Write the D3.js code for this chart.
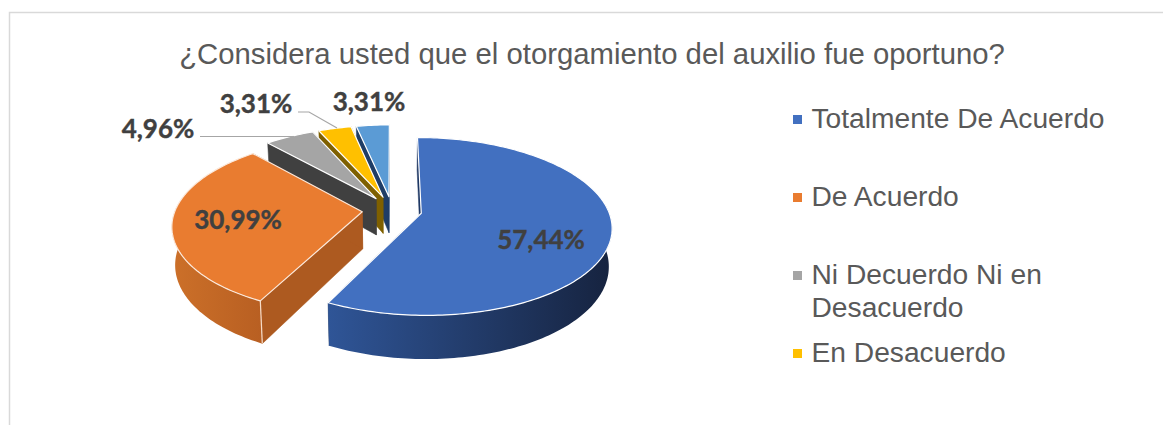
<!DOCTYPE html>
<meta charset="utf-8">
<style>
html, body { margin: 0; background: #fff; }
svg { display: block; }
</style>
<body>
<svg width="1163" height="425" id="chart"></svg>
<script src="https://d3js.org/d3.v7.min.js"></script>
<script>

// data
const categories = ["Totalmente De Acuerdo", "De Acuerdo", "Ni Decuerdo Ni en Desacuerdo", "En Desacuerdo", "No Responde"];
const values = [57.44, 30.99, 4.96, 3.31, 3.31];
const labels = ["57,44%", "30,99%", "4,96%", "3,31%", "3,31%"];
const title = "¿Considera usted que el otorgamiento del auxilio fue oportuno?";

// styles
const topColors = ["#4270c0", "#e97c30", "#a5a5a5", "#ffc000", "#5b9bd5"];
const wallColors = ["#1f3864", "#ad5a20", "#404040", "#7f6000", "#1f3d66"];
const wallRamps = [["#2f5597", "#16233f"], ["#cc7029", "#b85f22"]];

var svg = d3.select("svg"),
    width = +svg.attr("width"),
    height = +svg.attr("height");

// frame, only top and left are visible in the crop
svg.append("path")
    .attr("d", "M9.5,425V12.5H1163")
    .attr("fill", "none")
    .attr("stroke", "#d9d9d9")
    .attr("stroke-width", 1.5);

svg.append("text")
    .attr("x", 592)
    .attr("y", 64)
    .attr("text-anchor", "middle")
    .attr("font-family", "Liberation Sans")
    .attr("font-size", 29.3)
    .attr("fill", "#595959")
    .text(title);

// pseudo 3d pie: unit circle on the ground, seen in perspective
const persp = 0.148, explode = 0.16, depth = 37, shrink = 0.985;
const cx = 392;
let xs = d3.scaleLinear().domain([-1, 1]).range([cx - 187, cx + 187]);
let ys = d3.scaleLinear().domain([-1, 1]).range([210 + 86, 210 - 86]);

function project(gx, gz, low) {
    let s = 1 / (1 + persp * gz);
    let x = xs(gx * s), y = ys(gz * s);
    if (low) {
        x = cx + (x - cx) * shrink;
        y += depth * s;
    }
    return [x, y];
}

let pie = d3.pie().sort(null).value(d => d);
let slices = pie(values);
let line = d3.line();
let defs = svg.append("defs");

function arcPoints(d, a0, a1, low) {
    let mid = (d.startAngle + d.endAngle) / 2;
    let ox = Math.sin(mid) * explode, oz = Math.cos(mid) * explode;
    let n = Math.max(2, Math.ceil((a1 - a0) / 0.02));
    return d3.range(n + 1).map(i => {
        let a = a0 + (a1 - a0) * i / n;
        return project(ox + Math.sin(a), oz + Math.cos(a), low);
    });
}

function apex(d, low) {
    let mid = (d.startAngle + d.endAngle) / 2;
    return project(Math.sin(mid) * explode, Math.cos(mid) * explode, low);
}

let pieG = svg.append("g");

// back to front
d3.range(slices.length).reverse().forEach(function(i) {
    let d = slices[i], g = pieG.append("g");

    [d.startAngle, d.endAngle].forEach(function(a) {
        let top = arcPoints(d, a, a, false)[0], low = arcPoints(d, a, a, true)[0];
        g.append("path")
            .attr("d", line([top, apex(d, false), apex(d, true), low]) + "Z")
            .attr("fill", wallColors[i])
            .attr("stroke", wallColors[i])
            .attr("stroke-width", 0.5);
    });

    // outer wall, front half only
    let a0 = Math.max(d.startAngle, Math.PI * 0.47), a1 = Math.min(d.endAngle, Math.PI * 1.53);
    if (a1 > a0) {
        let upper = arcPoints(d, a0, a1, false), lower = arcPoints(d, a0, a1, true);
        let ramp = wallRamps[i];
        let grad = defs.append("linearGradient")
            .attr("id", "wall" + i)
            .attr("gradientUnits", "objectBoundingBox")
            .attr("x1", 0).attr("x2", 1).attr("y1", 0).attr("y2", 0);
        grad.append("stop").attr("offset", 0).attr("stop-color", ramp[0]);
        grad.append("stop").attr("offset", 1).attr("stop-color", ramp[1]);
        g.append("path")
            .attr("d", line(upper.concat(lower.reverse())) + "Z")
            .attr("fill", "url(#wall" + i + ")");
    }

    if (i == 1) {
        // pale seam on the front corner of the orange slice
        let a = d.startAngle;
        g.append("path")
            .attr("d", line([arcPoints(d, a, a, false)[0], arcPoints(d, a, a, true)[0]]))
            .attr("stroke", "#f6dcc8")
            .attr("stroke-width", 1.2);
    }

    let face = arcPoints(d, d.startAngle, d.endAngle, false);
    face.push(apex(d, false));
    g.append("path")
        .attr("d", line(face) + "Z")
        .attr("fill", topColors[i])
        .attr("stroke", i == 1 ? "#fbe9dc" : "#fff")
        .attr("stroke-width", 1.2)
        .attr("stroke-linejoin", "round");
});

// leader lines
[[[200, 136.5], [294, 136.5]], [[298, 112], [309, 112], [337, 128]]].forEach(function(p) {
    svg.append("path")
        .attr("d", line(p))
        .attr("fill", "none")
        .attr("stroke", "#a6a6a6")
        .attr("stroke-width", 1.2);
});

// data labels
const labelSpots = [[541, 249], [238, 229], [158, 138], [256, 113], [369, 111]];
svg.selectAll(".lbl")
    .data(labels)
    .enter().append("text")
    .attr("class", "lbl")
    .attr("x", (d, i) => labelSpots[i][0])
    .attr("y", (d, i) => labelSpots[i][1])
    .attr("text-anchor", "middle")
    .attr("font-family", "Lato")
    .attr("font-weight", 700)
    .attr("font-size", 26)
    .attr("fill", "#404040")
    .attr("stroke", "#404040")
    .attr("stroke-width", 0.4)
    .text(d => d);

// legend, the last entry is cut off in the reference
let legendY = d3.scalePoint().domain(d3.range(4)).range([128, 362]);
let legendLines = [["Totalmente De Acuerdo"], ["De Acuerdo"], ["Ni Decuerdo Ni en", "Desacuerdo"], ["En Desacuerdo"]];
legendLines.forEach(function(rows, i) {
    let y = legendY(i);
    svg.append("rect")
        .attr("x", 793).attr("y", y - 13)
        .attr("width", 9).attr("height", 9)
        .attr("fill", topColors[i]);
    rows.forEach(function(r, j) {
        svg.append("text")
            .attr("x", 811.5)
            .attr("y", y + j * 33)
            .attr("font-family", "Liberation Sans")
            .attr("font-size", 28.2)
            .attr("fill", "#595959")
            .text(r);
    });
});

</script>
</body>
